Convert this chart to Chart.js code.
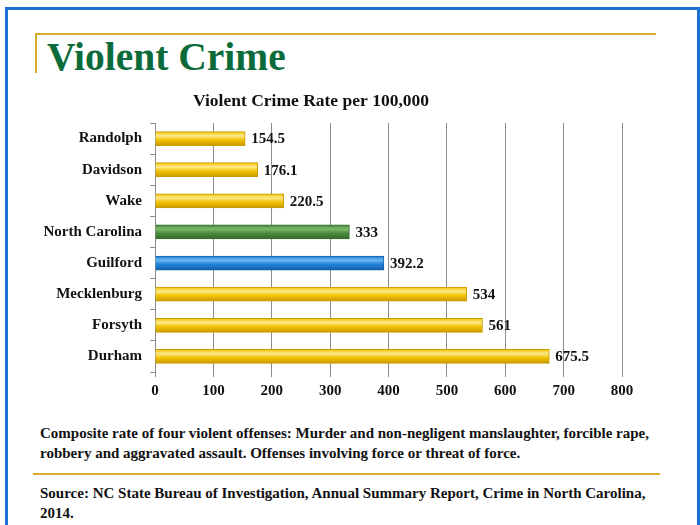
<!DOCTYPE html>
<html>
<head>
<meta charset="utf-8">
<script src="https://cdn.jsdelivr.net/npm/chart.js@4"></script>
<style>
  body { margin: 0; width: 700px; height: 525px; position: relative; background: #fff; overflow: hidden;
         font-family: "Liberation Serif", serif; }
  #frame { position: absolute; left: 5px; top: 7px; width: 689px; height: 530px;
           border: 3px solid #1c6fd3; border-bottom: none; }
  #goldTop { position: absolute; left: 35px; top: 33px; width: 621px; height: 2px; background: #d9a92a; }
  #goldLeft { position: absolute; left: 35px; top: 33px; width: 2px; height: 40px; background: #d9a92a; }
  #goldMid { position: absolute; left: 33px; top: 473px; width: 627px; height: 2px; background: #d9a92a; }
  #title { position: absolute; left: 47px; top: 34px; font-size: 39.5px; font-weight: bold; color: #0b6b3a; }
  .note { position: absolute; left: 40px; font-size: 15px; font-weight: bold; color: #111; line-height: 20px; }
  #wrap { position: absolute; left: 0; top: 87px; width: 700px; height: 320px; }
</style>
</head>
<body>
<div id="frame"></div>
<div id="goldTop"></div>
<div id="goldLeft"></div>
<div id="title">Violent Crime</div>
<div id="wrap"><canvas id="Chart1"></canvas></div>
<div class="note" style="top:423px">Composite rate of four violent offenses: Murder and non-negligent manslaughter, forcible rape,<br>robbery and aggravated assault. Offenses involving force or threat of force.</div>
<div id="goldMid"></div>
<div class="note" style="top:483px">Source: NC State Bureau of Investigation, Annual Summary Report, Crime in North Carolina,<br>2014.</div>
<script>
var places = ["Randolph", "Davidson", "Wake", "North Carolina", "Guilford", "Mecklenburg", "Forsyth", "Durham"];
var rates = [154.5, 176.1, 220.5, 333, 392.2, 534, 561, 675.5];
var barColors = ["#f2c200", "#f2c200", "#f2c200", "#4a8b3b", "#1f80d8", "#f2c200", "#f2c200", "#f2c200"];
var lightColors = ["#fde98a", "#fde98a", "#fde98a", "#7fb86a", "#6ab8f2", "#fde98a", "#fde98a", "#fde98a"];
var edgeColors = ["#c99a00", "#c99a00", "#c99a00", "#356a2a", "#1560a8", "#c99a00", "#c99a00", "#c99a00"];
var xTicks = [0, 100, 200, 300, 400, 500, 600, 700, 800];

var serif = "'Liberation Serif', serif";

// degradê vertical em cada barra
var barShade = {
  id: "barShade",
  beforeDatasetsDraw: function (chart) {
    var ctx = chart.ctx;
    chart.getDatasetMeta(0).data.forEach(function (bar, i) {
      var top = bar.y - bar.height / 2;
      var g = ctx.createLinearGradient(0, top, 0, top + bar.height);
      g.addColorStop(0, barColors[i]);
      g.addColorStop(0.3, lightColors[i]);
      g.addColorStop(0.6, barColors[i]);
      g.addColorStop(1, edgeColors[i]);
      bar.options.backgroundColor = g;
    });
  },
};

// valores à direita das barras
var valueLabels = {
  id: "valueLabels",
  afterDatasetsDraw: function (chart) {
    var ctx = chart.ctx;
    var meta = chart.getDatasetMeta(0);
    ctx.save();
    ctx.font = "bold 15px " + serif;
    ctx.fillStyle = "#111";
    ctx.textBaseline = "middle";
    meta.data.forEach(function (bar, i) {
      ctx.fillText(String(rates[i]), bar.x + 6, bar.y + 1);
    });
    ctx.restore();
  },
};

var data = {
  labels: places,
  datasets: [
    {
      data: rates,
      backgroundColor: barColors,
      borderColor: edgeColors,
      borderWidth: 1,
      barThickness: 14,
    },
  ],
};

var options = {
  indexAxis: "y",
  responsive: true,
  maintainAspectRatio: false,
  animation: false,
  layout: { padding: { left: 0, right: 78 } },
  plugins: {
    legend: { display: false },
    tooltip: { enabled: false },
    title: {
      display: true,
      text: "Violent Crime Rate per 100,000",
      color: "#111",
      font: { family: serif, size: 17.5, weight: "bold" },
      padding: { top: 4, bottom: 11 },
    },
  },
  scales: {
    x: {
      min: 0,
      max: 800,
      afterBuildTicks: function (scale) {
        scale.ticks = xTicks.map(function (v) { return { value: v }; });
      },
      afterFit: function (scale) { scale.height = 35; },
      grid: { color: "#8c8c8c", tickLength: 5, drawTicks: true },
      border: { display: false },
      ticks: { color: "#111", font: { family: serif, size: 15, weight: "bold" }, padding: 5 },
    },
    y: {
      afterFit: function (scale) { scale.width = 155; },
      grid: { drawOnChartArea: false, color: "#8c8c8c", tickLength: 5, offset: true },
      border: { display: true, color: "#8c8c8c" },
      ticks: { color: "#111", font: { family: serif, size: 15, weight: "bold" }, padding: 8 },
    },
  },
};

var ctx = document.getElementById("Chart1").getContext("2d");
var myChart = new Chart(ctx, {
  type: "bar",
  data: data,
  options: options,
  plugins: [barShade, valueLabels],
});
</script>
</body>
</html>
